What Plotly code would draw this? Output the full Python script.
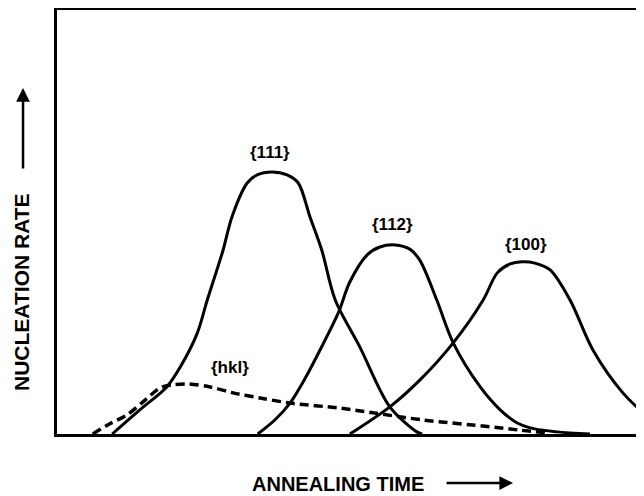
"""
Schematic of nucleation rate vs annealing time for several
orientation families, redrawn with Plotly.
"""

import plotly.graph_objects as go

# curve points (arbitrary units, 0-100 on both axes)
x_111 = [9.4, 14.1, 18.7, 21.0, 23.9, 25.6, 28.3, 29.8, 32.4, 34.1,
         36.6, 39.2, 41.1, 43.1, 45.1, 47.4, 51.6, 56.7, 61.3, 62.2]
y_111 = [0, 5.7, 11.1, 15.8, 23.8, 31.6, 43.4, 51.2, 59.2, 61.1,
         61.8, 61.1, 59.2, 51.2, 43.4, 31.6, 20.5, 6.4, 0.5, 0]

x_112 = [34.2, 37.1, 39.7, 42.3, 44.8, 47.9, 49.9, 52.8, 55.0, 57.6,
         60.1, 61.8, 64.7, 67.5, 72.1, 75.5, 78.4, 81.4, 85.2, 90.8]
y_112 = [0, 3.3, 7.3, 13.2, 19.8, 28.5, 35.9, 42.2, 44.1, 44.6,
         43.6, 41.0, 31.6, 21.5, 11.1, 5.7, 2.6, 1.2, 0.5, 0]

x_100 = [49.9, 56.7, 61.8, 67.5, 72.6, 75.0, 77.2, 79.2, 81.4, 84.0,
         87.4, 91.3, 96.4, 100.0, 104.4, 109.5]
y_100 = [0, 6.4, 12.7, 21.5, 31.6, 38.0, 40.1, 40.6, 40.3, 38.7,
         31.6, 19.8, 9.7, 5.0, 1.4, 0]

x_hkl = [6.1, 9.0, 11.9, 15.0, 17.6, 19.6, 22.2, 26.1, 30.0, 34.6,
         39.7, 48.2, 53.8, 62.4, 73.8, 78.9, 84.0]
y_hkl = [0, 2.4, 4.5, 8.0, 10.9, 11.6, 11.8, 11.1, 9.7, 8.5,
         7.3, 6.1, 5.0, 3.3, 1.7, 0.9, 0.2]

# label text for each curve
labels = ["{111}", "{112}", "{100}", "{hkl}"]
label_x = [36.3, 57.2, 79.9, 29.5]
label_y = [66.5, 49.3, 44.6, 15.6]

FONT = "Liberation Sans"

fig = go.Figure()

# solid curves
for xs, ys in [(x_111, y_111), (x_112, y_112), (x_100, y_100)]:
    fig.add_trace(go.Scatter(
        x=xs,
        y=ys,
        mode="lines",
        line=dict(color="black", width=3, shape="spline", smoothing=0.9),
        hoverinfo="skip",
        showlegend=False
    ))

# dashed {hkl} curve
fig.add_trace(go.Scatter(
    x=x_hkl,
    y=y_hkl,
    mode="lines",
    line=dict(color="black", width=3.5, dash="9px,5px",
              shape="spline", smoothing=0.9),
    hoverinfo="skip",
    showlegend=False
))

# curve labels
for t, lx, ly in zip(labels, label_x, label_y):
    fig.add_annotation(
        x=lx, y=ly, xref="x", yref="y",
        text=t, showarrow=False,
        xanchor="center", yanchor="middle",
        font=dict(family=FONT, size=17, color="black", weight="bold")
    )

# axis labels
fig.add_annotation(
    x=-0.0596, y=0.335, xref="paper", yref="paper",
    text="NUCLEATION RATE", textangle=-90, showarrow=False,
    xanchor="center", yanchor="middle",
    font=dict(family=FONT, size=21, color="black", weight="bold")
)
fig.add_annotation(
    x=0.479, y=-0.118, xref="paper", yref="paper",
    text="ANNEALING TIME", showarrow=False,
    xanchor="center", yanchor="middle",
    font=dict(family=FONT, size=20, color="black", weight="bold")
)

# arrows next to the axis labels
fig.add_annotation(
    x=-0.0579, y=0.816, xref="paper", yref="paper",
    ax=0, ay=82, text="", showarrow=True,
    arrowhead=2, arrowsize=1.1, arrowwidth=2.5, arrowcolor="black"
)
fig.add_annotation(
    x=0.777, y=-0.1156, xref="paper", yref="paper",
    ax=-68, ay=0, text="", showarrow=True,
    arrowhead=2, arrowsize=1.1, arrowwidth=2.5, arrowcolor="black"
)

fig.update_xaxes(
    range=[0, 100],
    showline=True, linecolor="black", linewidth=3, mirror=True,
    showgrid=False, zeroline=False, showticklabels=False, ticks=""
)
fig.update_yaxes(
    range=[0, 100],
    showline=True, linecolor="black", linewidth=3, mirror=False,
    showgrid=False, zeroline=False, showticklabels=False, ticks=""
)

# page body has an 8px margin, so the figure is shrunk by that much
fig.update_layout(
    width=636,
    height=488,
    margin=dict(l=49, r=0, t=2, b=62),
    paper_bgcolor="white",
    plot_bgcolor="white"
)

fig.write_html("out.html")
